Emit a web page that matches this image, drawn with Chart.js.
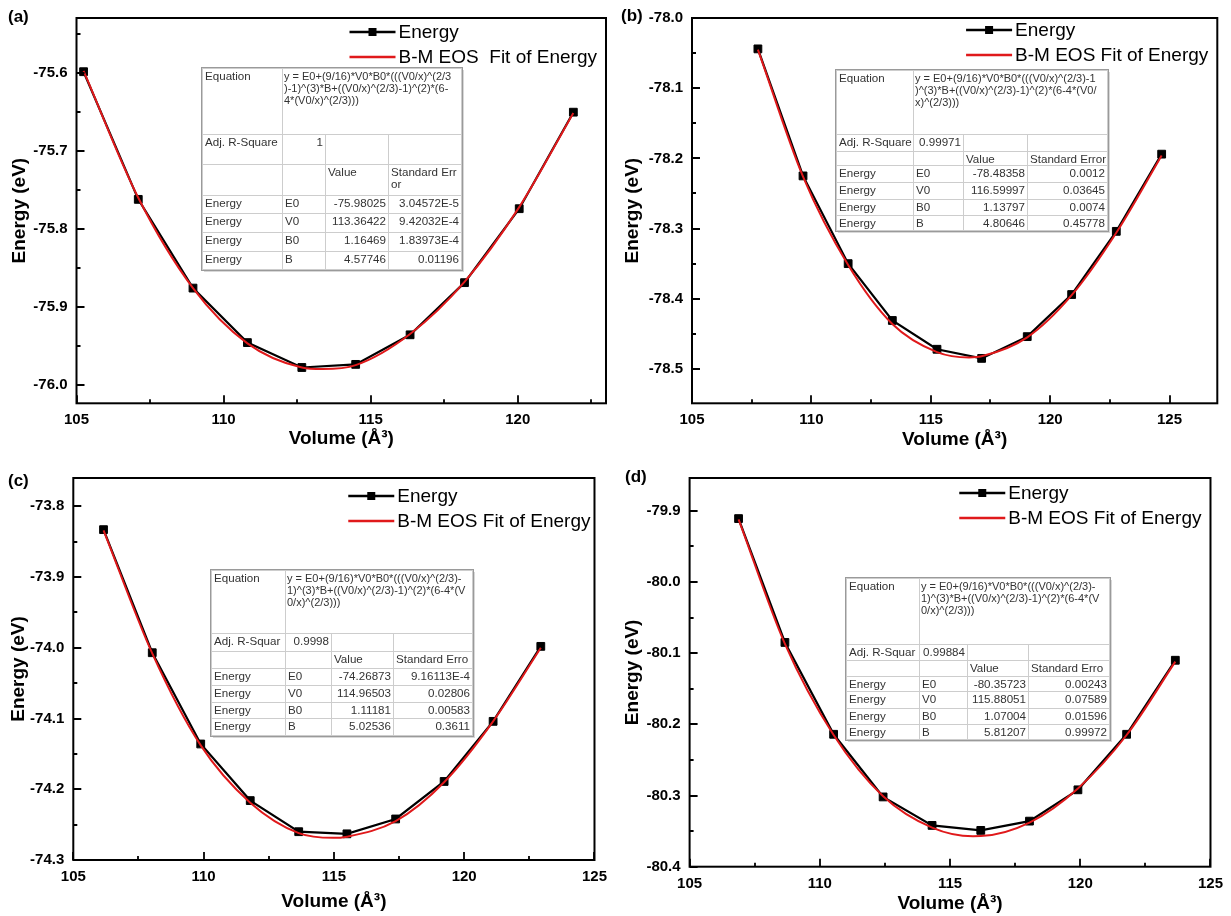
<!DOCTYPE html>
<html>
<head>
<meta charset="utf-8">
<script src="https://cdn.jsdelivr.net/npm/chart.js@4.4.0/dist/chart.umd.min.js"></script>
<style>
  html, body { margin: 0; padding: 0; background: #fff; }
  #figure { position: relative; width: 1231px; height: 916px; overflow: hidden; font-family: Arial, 'Liberation Sans', sans-serif; }
  .panel { position: absolute; }
  .panel canvas { display: block; }
  .tag { position: absolute; font: bold 17px Arial, 'Liberation Sans', sans-serif; color: #000; line-height: 20px; }
  table.fit { position: absolute; border-collapse: collapse; table-layout: fixed; background: #fff;
    font-size: 11.6px; color: #333; outline: 1px solid #9a9a9a; box-shadow: 2px 2px 0 #d8d8d8; }
  table.fit td { border: 1px solid #cdcdcd; padding: 1px 2px 0 2px; vertical-align: top; white-space: nowrap;
    overflow: hidden; line-height: 12px; }
  table.fit td.num { text-align: right; }
  table.fit td.eq { font-size: 11px; padding-left: 1px; padding-right: 0; }
</style>
</head>
<body>
<div id="figure"></div>
<script>
const RED = '#e0191b';
const FONT = "Arial, 'Liberation Sans', sans-serif";

const paramNames = ['E0', 'V0', 'B0', 'B'];

// (a)
const volA = [105.24, 107.10, 108.96, 110.81, 112.66, 114.49, 116.34, 118.19, 120.05, 121.89];
const enA = [-75.598, -75.762, -75.876, -75.946, -75.978, -75.974, -75.936, -75.869, -75.774, -75.650];
const fitVolA = [105.24, 107.10, 108.96, 110.81, 112.66, 113.36, 114.49, 116.34, 118.19, 120.05, 121.89];
const fitEnA = [-75.597, -75.760, -75.876, -75.947, -75.978, -75.980, -75.975, -75.935, -75.868, -75.772, -75.651];
const eqA = ['y = E0+(9/16)*V0*B0*(((V0/x)^(2/3', ')-1)^(3)*B+((V0/x)^(2/3)-1)^(2)*(6-', '4*(V0/x)^(2/3)))'];
const adjA = '1';
const valuesA = ['-75.98025', '113.36422', '1.16469', '4.57746'];
const errorsA = ['3.04572E-5', '9.42032E-4', '1.83973E-4', '0.01196'];

// (b)
const volB = [107.76, 109.65, 111.54, 113.39, 115.26, 117.13, 119.04, 120.90, 122.77, 124.67];
const enB = [-78.044, -78.225, -78.350, -78.431, -78.472, -78.485, -78.454, -78.394, -78.304, -78.194];
const fitVolB = [107.76, 109.65, 111.54, 113.39, 115.26, 116.60, 117.13, 119.04, 120.90, 122.77, 124.67];
const fitEnB = [-78.045, -78.226, -78.352, -78.436, -78.476, -78.4836, -78.482, -78.455, -78.395, -78.306, -78.196];
const eqB = ['y = E0+(9/16)*V0*B0*(((V0/x)^(2/3)-1', ')^(3)*B+((V0/x)^(2/3)-1)^(2)*(6-4*(V0/', 'x)^(2/3)))'];
const adjB = '0.99971';
const valuesB = ['-78.48358', '116.59997', '1.13797', '4.80646'];
const errorsB = ['0.0012', '0.03645', '0.0074', '0.45778'];

// (c)
const volC = [106.16, 108.03, 109.89, 111.79, 113.65, 115.50, 117.37, 119.23, 121.11, 122.94];
const enC = [-73.833, -74.007, -74.136, -74.216, -74.260, -74.263, -74.242, -74.189, -74.104, -73.998];
const fitVolC = [106.16, 108.03, 109.89, 111.79, 113.65, 114.97, 115.50, 117.37, 119.23, 121.11, 122.94];
const fitEnC = [-73.834, -74.008, -74.138, -74.219, -74.262, -74.2687, -74.267, -74.245, -74.190, -74.104, -74.000];
const eqC = ['y = E0+(9/16)*V0*B0*(((V0/x)^(2/3)-', '1)^(3)*B+((V0/x)^(2/3)-1)^(2)*(6-4*(V', '0/x)^(2/3)))'];
const adjC = '0.9998';
const valuesC = ['-74.26873', '114.96503', '1.11181', '5.02536'];
const errorsC = ['9.16113E-4', '0.02806', '0.00583', '0.3611'];

// (d)
const volD = [106.88, 108.66, 110.53, 112.43, 114.31, 116.18, 118.05, 119.91, 121.78, 123.65];
const enD = [-79.911, -80.085, -80.214, -80.302, -80.342, -80.349, -80.336, -80.292, -80.214, -80.110];
const fitVolD = [106.88, 108.66, 110.53, 112.43, 114.31, 115.88, 116.18, 118.05, 119.91, 121.78, 123.65];
const fitEnD = [-79.912, -80.087, -80.215, -80.301, -80.345, -80.3572, -80.357, -80.338, -80.290, -80.215, -80.112];
const eqD = eqC;
const adjD = '0.99884';
const valuesD = ['-80.35723', '115.88051', '1.07004', '5.81207'];
const errorsD = ['0.00243', '0.07589', '0.01596', '0.99972'];

const panels = [
  {tag: '(a)', left: 0, top: 0, w: 615, h: 458, area: [76.5, 11.7, 606, 403.3],
    x: [105, 123], y: [-76.024, -75.529], vol: volA, en: enA, fitVol: fitVolA, fitEn: fitEnA,
    fitLabel: 'B-M EOS  Fit of Energy', legTop: 14, legGap: 9, yPad: 8, xPad: 7.5, tagPos: [8, 7],
    table: {x: 202, y: 68, cols: [80, 43, 63, 73], rows: [66, 30, 31, 18, 19, 19, 18],
      eq: eqA, adjLabel: 'Adj. R-Square', adj: adjA, head: ['Standard Err', 'or'], values: valuesA, errors: errorsA}},
  {tag: '(b)', left: 615, top: 0, w: 616, h: 458, area: [77, 12.7, 602.3, 403.3],
    x: [105, 127], y: [-78.549, -78.0], vol: volB, en: enB, fitVol: fitVolB, fitEn: fitEnB,
    fitLabel: 'B-M EOS Fit of Energy', legTop: 12, legGap: 9, yPad: 6.3, xPad: 6.6, tagPos: [6, 6],
    table: {x: 836, y: 70, cols: [77, 50, 64, 80], rows: [64, 17, 14, 17, 17, 16, 15],
      eq: eqB, adjLabel: 'Adj. R-Square', adj: adjB, head: ['Standard Error'], values: valuesB, errors: errorsB}},
  {tag: '(c)', left: 0, top: 460, w: 615, h: 456, area: [73.3, 10.7, 599.2, 400],
    x: [105, 125], y: [-74.3, -73.76], vol: volC, en: enC, fitVol: fitVolC, fitEn: fitEnC,
    fitLabel: 'B-M EOS Fit of Energy', legTop: 18, legGap: 4, yPad: 7.4, xPad: 2.9, tagPos: [8, 11],
    table: {x: 211, y: 570, cols: [74, 46, 62, 79], rows: [63, 18, 17, 17, 17, 16, 17],
      eq: eqC, adjLabel: 'Adj. R-Squar', adj: adjC, head: ['Standard Erro'], values: valuesC, errors: errorsC}},
  {tag: '(d)', left: 615, top: 460, w: 616, h: 456, area: [74.6, 10.7, 596.2, 406.7],
    x: [105, 125], y: [-80.4, -79.854], vol: volD, en: enD, fitVol: fitVolD, fitEn: fitEnD,
    fitLabel: 'B-M EOS Fit of Energy', legTop: 15, legGap: 9, yPad: 6.3, xPad: 1.3, tagPos: [10, 7],
    table: {x: 846, y: 578, cols: [73, 48, 61, 81], rows: [66, 16, 16, 15, 17, 16, 15],
      eq: eqD, adjLabel: 'Adj. R-Squar', adj: adjD, head: ['Standard Erro'], values: valuesD, errors: errorsD}}
];

// frame + inward Origin-style ticks
const framePlugin = {
  id: 'frame',
  afterDatasetsDraw(chart) {
    const {ctx, chartArea: a, scales} = chart;
    ctx.save();
    ctx.strokeStyle = '#000';
    ctx.lineWidth = 2;
    ctx.strokeRect(a.left, a.top, a.right - a.left, a.bottom - a.top);
    ctx.lineWidth = 1.8;
    ctx.beginPath();
    scales.x.ticks.forEach((t) => {
      const px = Math.round(scales.x.getPixelForValue(t.value));
      const len = t.label ? 8 : 4;
      ctx.moveTo(px, a.bottom);
      ctx.lineTo(px, a.bottom - len);
    });
    scales.y.ticks.forEach((t) => {
      const py = Math.round(scales.y.getPixelForValue(t.value));
      const len = t.label ? 8 : 4;
      ctx.moveTo(a.left, py);
      ctx.lineTo(a.left + len, py);
    });
    ctx.stroke();
    ctx.restore();
  }
};

// legend in the upper right corner of the plot
const cornerLegend = {
  id: 'cornerLegend',
  afterDraw(chart, args, opts) {
    const {ctx, chartArea: a} = chart;
    const sets = chart.data.datasets;
    ctx.save();
    ctx.font = '19px ' + FONT;
    ctx.textBaseline = 'middle';
    const widest = Math.max(...sets.map((d) => ctx.measureText(d.label).width));
    const textX = a.right - opts.gap - widest;
    const symR = textX - 3;
    const symL = symR - 46;
    sets.forEach((d, i) => {
      const y = a.top + opts.top + i * 25;
      ctx.strokeStyle = d.borderColor;
      ctx.lineWidth = 2.4;
      ctx.beginPath();
      ctx.moveTo(symL, y);
      ctx.lineTo(symR, y);
      ctx.stroke();
      if (d.pointRadius > 0) {
        ctx.fillStyle = '#000';
        ctx.fillRect((symL + symR) / 2 - 4, y - 4, 8, 8);
      }
      ctx.fillStyle = '#000';
      ctx.fillText(d.label, textX, y + 1);
    });
    ctx.restore();
  }
};

const fig = document.getElementById('figure');

const buildTable = (t) => {
  const tbl = document.createElement('table');
  tbl.className = 'fit';
  tbl.style.left = t.x + 'px';
  tbl.style.top = t.y + 'px';
  tbl.style.width = t.cols.reduce((s, c) => s + c, 0) + 'px';
  let html = '<colgroup>' + t.cols.map((c) => `<col style="width:${c}px">`).join('') + '</colgroup>';
  const tr = (i) => `<tr style="height:${t.rows[i]}px">`;
  html += tr(0) + '<td>Equation</td><td class="eq" colspan="3">' + t.eq.join('<br>') + '</td></tr>';
  html += tr(1) + `<td>${t.adjLabel}</td><td class="num">${t.adj}</td><td></td><td></td></tr>`;
  html += tr(2) + '<td></td><td></td><td>Value</td><td>' + t.head.join('<br>') + '</td></tr>';
  paramNames.forEach((p, i) => {
    html += tr(3 + i) + `<td>Energy</td><td>${p}</td><td class="num">${t.values[i]}</td><td class="num">${t.errors[i]}</td></tr>`;
  });
  tbl.innerHTML = html;
  fig.appendChild(tbl);
};

panels.forEach((p) => {
  const box = document.createElement('div');
  box.className = 'panel';
  box.style.left = p.left + 'px';
  box.style.top = p.top + 'px';
  box.style.width = p.w + 'px';
  box.style.height = p.h + 'px';
  const canvas = document.createElement('canvas');
  canvas.width = p.w;
  canvas.height = p.h;
  box.appendChild(canvas);
  const tag = document.createElement('div');
  tag.className = 'tag';
  tag.textContent = p.tag;
  tag.style.left = p.tagPos[0] + 'px';
  tag.style.top = p.tagPos[1] + 'px';
  box.appendChild(tag);
  fig.appendChild(box);

  const [L, T, R, B] = p.area;
  const tickFont = {family: FONT, size: 15, weight: 'bold'};
  const titleFont = {family: FONT, size: 19, weight: 'bold'};

  new Chart(canvas.getContext('2d'), {
    type: 'line',
    data: {
      datasets: [
        {
          label: 'Energy',
          data: p.vol.map((v, i) => ({x: v, y: p.en[i]})),
          borderColor: '#000',
          backgroundColor: '#000',
          borderWidth: 2.2,
          pointStyle: 'rect',
          pointRadius: 5.5,
          pointBorderWidth: 1,
          pointBackgroundColor: '#000',
          tension: 0,
          order: 1
        },
        {
          label: p.fitLabel,
          data: p.fitVol.map((v, i) => ({x: v, y: p.fitEn[i]})),
          borderColor: RED,
          borderWidth: 2,
          pointRadius: 0,
          cubicInterpolationMode: 'monotone',
          order: 0
        }
      ]
    },
    options: {
      responsive: false,
      animation: false,
      events: [],
      layout: {padding: {left: 0, top: T, right: p.w - R, bottom: 0}},
      plugins: {
        legend: {display: false},
        tooltip: {enabled: false},
        cornerLegend: {top: p.legTop, gap: p.legGap}
      },
      scales: {
        x: {
          type: 'linear',
          min: p.x[0],
          max: p.x[1],
          afterFit: (s) => { s.height = p.h - B; },
          grid: {display: false, drawTicks: false},
          border: {display: false},
          ticks: {
            stepSize: 2.5,
            includeBounds: false,
            autoSkip: false,
            maxRotation: 0,
            padding: 8,
            color: '#000',
            font: tickFont,
            callback: (v) => (Math.abs(v / 5 - Math.round(v / 5)) < 1e-6 ? String(Math.round(v)) : '')
          },
          title: {display: true, text: 'Volume (Å³)', color: '#000', font: titleFont,
            padding: {top: 0, bottom: p.xPad}}
        },
        y: {
          type: 'linear',
          min: p.y[0],
          max: p.y[1],
          afterFit: (s) => { s.width = L; },
          grid: {display: false, drawTicks: false},
          border: {display: false},
          ticks: {
            stepSize: 0.05,
            includeBounds: false,
            autoSkip: false,
            padding: 9,
            color: '#000',
            font: tickFont,
            callback: (v) => (Math.abs(v * 10 - Math.round(v * 10)) < 1e-6 ? v.toFixed(1) : '')
          },
          title: {display: true, text: 'Energy (eV)', color: '#000', font: titleFont,
            padding: {top: p.yPad, bottom: 0}}
        }
      }
    },
    plugins: [framePlugin, cornerLegend]
  });

  buildTable(p.table);
});
</script>
</body>
</html>
